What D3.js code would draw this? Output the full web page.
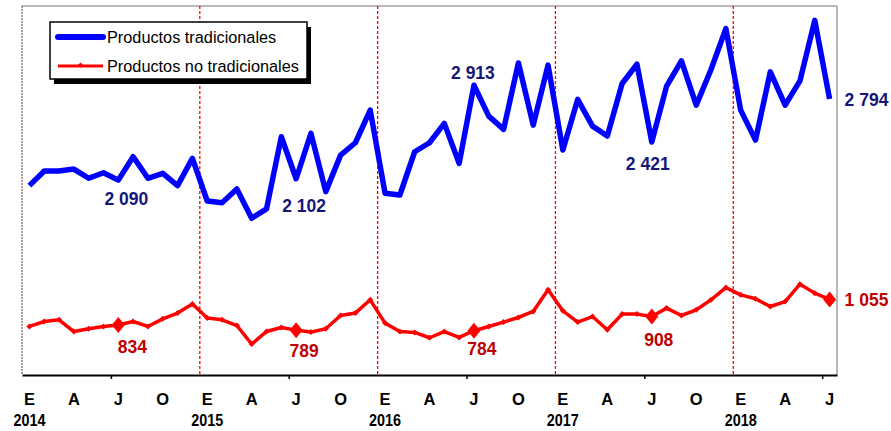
<!DOCTYPE html>
<html>
<head>
<meta charset="utf-8">
<script src="https://cdn.jsdelivr.net/npm/d3@7"></script>
<style>
  body { margin: 0; background: #fff; }
  text { font-family: "Liberation Sans", Arial, sans-serif; }
</style>
</head>
<body>
<div id="chart"></div>
<script>
// monthly values, Jan 2014 .. Jul 2018
var tradicionales = [
    2042, 2169, 2169, 2186, 2106, 2154, 2090, 2293, 2106, 2149, 2042, 2279,
    1909, 1894, 2013, 1759, 1840, 2466, 2102, 2495, 1990, 2307, 2414, 2697,
    1976, 1961, 2336, 2414, 2582, 2235, 2913, 2645, 2530, 3106, 2567, 3087,
    2351, 2790, 2558, 2472, 2928, 3095, 2421, 2905, 3124, 2740, 3049, 3404,
    2697, 2437, 3029, 2740, 2951, 3476, 2794
];
var noTradicionales = [
    821, 864, 879, 777, 801, 821, 834, 864, 821, 887, 937, 1015,
    894, 879, 829, 668, 777, 812, 789, 772, 801, 916, 937, 1052,
    850, 777, 769, 723, 777, 726, 784, 821, 859, 899, 951, 1139,
    957, 859, 907, 792, 928, 928, 908, 980, 916, 965, 1052, 1158,
    1095, 1061, 994, 1037, 1188, 1110, 1055
];
var monthLetters = ["E", "A", "J", "O"];
var years = ["2014", "2015", "2016", "2017", "2018"];
var seriesNames = ["Productos tradicionales", "Productos no tradicionales"];
var highlighted = [6, 18, 30, 42, 54]; // julio de cada año

// label placement relative to the point (dx, dy, anchor)
var blueLabelPos = [[8, 19, "middle"], [8, 27, "middle"], [-1, -13, "middle"], [-4, 22, "middle"], [15, 1, "start"]];
var redLabelPos = [[14, 22, "middle"], [8, 21, "middle"], [8, 18, "middle"], [7, 23, "middle"], [15, 0, "start"]];

var width = 891, height = 431;
var margin = { left: 22, right: 837, top: 6, bottom: 375 };

var fmt = d3.formatLocale({ decimal: ",", thousands: " ", grouping: [3], currency: ["", ""] }).format(",d");

var svg = d3.select("#chart").append("svg")
    .attr("width", width)
    .attr("height", height);

var x = d3.scaleLinear().domain([-0.5, tradicionales.length - 0.5]).range([margin.left, margin.right]);
var y = d3.scaleLinear().domain([400, 3600]).range([margin.bottom, margin.top]);

//Frame
svg.append("line").attr("x1", margin.left).attr("x2", margin.right).attr("y1", margin.top).attr("y2", margin.top)
    .attr("stroke", "#a0a0a0").attr("stroke-width", 1.5);
svg.append("line").attr("x1", margin.right).attr("x2", margin.right).attr("y1", margin.top).attr("y2", margin.bottom)
    .attr("stroke", "#a0a0a0").attr("stroke-width", 1.5);
svg.append("line").attr("x1", margin.left).attr("x2", margin.left).attr("y1", margin.top).attr("y2", margin.bottom)
    .attr("stroke", "#9a7c7c").attr("stroke-width", 1.5).attr("stroke-dasharray", "2,1");

//Year separators
d3.range(1, years.length).forEach(function (k) {
    svg.append("line")
        .attr("x1", x(k * 12 - 0.5)).attr("x2", x(k * 12 - 0.5))
        .attr("y1", margin.top).attr("y2", margin.bottom)
        .attr("stroke", "#ff0000").attr("stroke-width", 1.3)
        .attr("stroke-dasharray", "3,2");
});

//X axis
svg.append("g")
    .attr("transform", "translate(0," + margin.bottom + ")")
    .call(d3.axisBottom(x)
        .tickValues(years.map((d, k) => k * 12 + 5.5))
        .tickSize(4).tickSizeOuter(0).tickFormat(""))
    .call(g => g.select(".domain").attr("stroke", "#000").attr("stroke-width", 2))
    .call(g => g.selectAll(".tick line").attr("stroke", "#000").attr("stroke-width", 1.5));

d3.range(0, tradicionales.length, 3).forEach(function (i) {
    svg.append("text")
        .attr("x", x(i)).attr("y", 404.5)
        .attr("text-anchor", "middle")
        .attr("font-size", 16.5).attr("font-weight", "bold")
        .text(monthLetters[(i / 3) % 4]);
});
years.forEach(function (yr, k) {
    svg.append("text")
        .attr("x", x(k * 12)).attr("y", 426)
        .attr("text-anchor", "middle")
        .attr("font-size", 17).attr("font-weight", "bold")
        .attr("textLength", 32).attr("lengthAdjust", "spacingAndGlyphs")
        .text(yr);
});

var line = d3.line().x((d, i) => x(i)).y(d => y(d));

//Red series
svg.append("path")
    .datum(noTradicionales)
    .attr("fill", "none").attr("stroke", "#ff0000")
    .attr("stroke-width", 3.5).attr("stroke-linejoin", "round")
    .attr("d", line);

svg.selectAll(".dot")
    .data(noTradicionales)
    .enter().append("path")
    .attr("class", "dot")
    .attr("transform", (d, i) => "translate(" + x(i) + "," + y(d) + ")")
    .attr("d", "M0,-3L3,0L0,3L-3,0Z")
    .attr("fill", "#ff0000");

svg.selectAll(".diamond")
    .data(highlighted)
    .enter().append("path")
    .attr("class", "diamond")
    .attr("transform", i => "translate(" + x(i) + "," + y(noTradicionales[i]) + ")")
    .attr("d", "M0,-8L6.5,0L0,8L-6.5,0Z")
    .attr("fill", "#ff0000");

//Blue series
svg.append("path")
    .datum(tradicionales)
    .attr("fill", "none").attr("stroke", "#0000ff")
    .attr("stroke-width", 5.5).attr("stroke-linejoin", "round")
    .attr("d", line);

//Value labels
highlighted.forEach(function (i, k) {
    var p = blueLabelPos[k];
    svg.append("text")
        .attr("x", x(i) + p[0]).attr("y", y(tradicionales[i]) + p[1])
        .attr("dy", "0.36em")
        .attr("text-anchor", p[2])
        .attr("font-size", 17.5).attr("font-weight", "bold")
        .attr("fill", "#16167a")
        .text(fmt(tradicionales[i]));
    var q = redLabelPos[k];
    svg.append("text")
        .attr("x", x(i) + q[0]).attr("y", y(noTradicionales[i]) + q[1])
        .attr("dy", "0.36em")
        .attr("text-anchor", q[2])
        .attr("font-size", 17.5).attr("font-weight", "bold")
        .attr("fill", "#c00000")
        .text(fmt(noTradicionales[i]));
});

//Legend
var legend = svg.append("g").attr("transform", "translate(50,22)");
legend.append("rect")
    .attr("x", 4).attr("y", 5).attr("width", 257).attr("height", 57)
    .attr("fill", "#000");
legend.append("rect")
    .attr("width", 257).attr("height", 57)
    .attr("fill", "#fff").attr("stroke", "#000").attr("stroke-width", 1.5);
legend.append("line")
    .attr("x1", 8).attr("x2", 53).attr("y1", 15).attr("y2", 15)
    .attr("stroke", "#0000ff").attr("stroke-width", 6).attr("stroke-linecap", "round");
legend.append("line")
    .attr("x1", 8).attr("x2", 53).attr("y1", 44).attr("y2", 44)
    .attr("stroke", "#ff0000").attr("stroke-width", 3);
legend.append("path")
    .attr("transform", "translate(30.5,43)")
    .attr("d", "M0,-2.5L2.5,0L0,2.5L-2.5,0Z")
    .attr("fill", "#ff0000");
seriesNames.forEach(function (name, k) {
    legend.append("text")
        .attr("x", 57).attr("y", 15 + k * 29)
        .attr("dy", "0.36em")
        .attr("font-size", 16.3)
        .text(name);
});
</script>
</body>
</html>
